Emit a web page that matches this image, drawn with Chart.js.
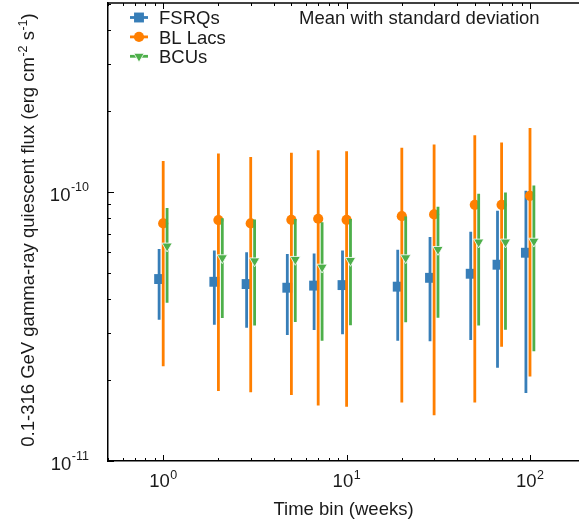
<!DOCTYPE html>
<html>
<head>
<meta charset="utf-8">
<script src="https://cdn.jsdelivr.net/npm/chart.js@4/dist/chart.umd.min.js"></script>
<style>
  html, body { margin: 0; padding: 0; background: #fff; overflow: hidden; }
  #wrap { position: relative; width: 579px; height: 523px; }
</style>
</head>
<body>
<div id="wrap"><canvas id="flux"></canvas></div>
<script>
// time bins in weeks
const timeBins = [1, 2, 3, 5, 7, 10, 20, 30, 50, 70, 100];

// mean quiescent flux and standard deviation (erg cm^-2 s^-1)
const fsrqMean = [4.75e-11, 4.64e-11, 4.55e-11, 4.41e-11, 4.49e-11, 4.51e-11, 4.45e-11, 4.80e-11, 4.97e-11, 5.37e-11, 5.95e-11];
const fsrqStd  = [1.40e-11, 1.43e-11, 1.42e-11, 1.47e-11, 1.42e-11, 1.55e-11, 1.65e-11, 2.01e-11, 2.15e-11, 3.15e-11, 4.16e-11];
const bllMean  = [7.65e-11, 7.87e-11, 7.65e-11, 7.89e-11, 7.96e-11, 7.89e-11, 8.14e-11, 8.26e-11, 8.97e-11, 8.97e-11, 9.69e-11];
const bllStd   = [5.40e-11, 6.05e-11, 5.85e-11, 6.13e-11, 6.35e-11, 6.30e-11, 6.49e-11, 6.78e-11, 7.32e-11, 6.31e-11, 7.63e-11];
const bcuMean  = [6.30e-11, 5.70e-11, 5.55e-11, 5.62e-11, 5.26e-11, 5.57e-11, 5.70e-11, 6.12e-11, 6.52e-11, 6.52e-11, 6.57e-11];
const bcuStd   = [2.42e-11, 2.30e-11, 2.36e-11, 2.33e-11, 2.46e-11, 2.37e-11, 2.42e-11, 2.71e-11, 3.33e-11, 3.44e-11, 4.01e-11];

const xTickValues = [1, 10, 100];
const xTickExps = ['0', '1', '2'];
const yTickValues = [1e-11, 1e-10];
const yTickExps = ['-11', '-10'];

const FONT = '"Liberation Sans", Arial, Helvetica, sans-serif';
const BIG = '18.5px ' + FONT;
const SUP = '12.5px ' + FONT;
const INK = '#1a1a1a';

const series = [
    { label: 'FSRQs',   mean: fsrqMean, std: fsrqStd, color: '#377eb8', style: 'rect',     radius: 7.0, rotation: 0,   shift: 0.95 },
    { label: 'BL Lacs', mean: bllMean,  std: bllStd,  color: '#ff7f00', style: 'circle',   radius: 5.1, rotation: 0,   shift: 1.0 },
    { label: 'BCUs',    mean: bcuMean,  std: bcuStd,  color: '#4daf4a', style: 'triangle', radius: 5.9, rotation: 180, shift: 1.05 },
];

const datasets = [];
series.forEach((s, k) => {
    const bars = [];
    timeBins.forEach((t, i) => {
        const x = t * s.shift;
        bars.push({ x: x, y: s.mean[i] - s.std[i] });
        bars.push({ x: x, y: s.mean[i] + s.std[i] });
        bars.push({ x: x, y: null });
    });
    datasets.push({
        type: 'line',
        label: s.label + ' std',
        data: bars,
        borderColor: s.color,
        borderWidth: 2.8,
        borderCapStyle: 'butt',
        pointRadius: 0,
        spanGaps: false,
        order: 6 - 2 * k,
    });
    datasets.push({
        type: 'scatter',
        label: s.label,
        data: timeBins.map((t, i) => ({ x: t * s.shift, y: s.mean[i] })),
        backgroundColor: s.color,
        borderColor: s.style === 'triangle' ? '#ffffff' : s.color,
        borderWidth: s.style === 'triangle' ? 0.8 : 0,
        pointStyle: s.style,
        pointRadius: s.radius,
        pointRotation: s.rotation,
        order: 5 - 2 * k,
    });
});

function powLabel(ctx, exp, x, baseY, expY, align) {
    ctx.font = BIG;
    const wb = ctx.measureText('10').width;
    ctx.font = SUP;
    const we = ctx.measureText(exp).width;
    let left = align === 'right' ? x - wb - we - 0.5 : x - (wb + we + 0.5) / 2;
    ctx.textAlign = 'left';
    ctx.textBaseline = 'alphabetic';
    ctx.font = BIG;
    ctx.fillText('10', left, baseY);
    ctx.font = SUP;
    ctx.fillText(exp, left + wb + 0.5, expY);
}

const decorations = {
    id: 'decorations',
    afterDraw(chart) {
        const { ctx, chartArea: a, scales } = chart;
        const xs = scales.x, ys = scales.y;
        ctx.save();
        ctx.strokeStyle = '#000';
        ctx.lineWidth = 1.5;
        ctx.beginPath();
        ctx.moveTo(a.left - 0.75, a.top);
        ctx.lineTo(a.right, a.top);
        ctx.stroke();

        // inward ticks
        ctx.lineWidth = 1;
        for (let d = -1; d <= 2; d++) {
            for (let m = 1; m <= 9; m++) {
                const v = m * Math.pow(10, d);
                if (v < xs.min || v > xs.max) continue;
                const px = Math.round(xs.getPixelForValue(v)) + 0.5;
                const len = m === 1 ? 6 : 3;
                ctx.beginPath();
                ctx.moveTo(px, a.bottom); ctx.lineTo(px, a.bottom - len);
                ctx.moveTo(px, a.top); ctx.lineTo(px, a.top + len);
                ctx.stroke();
            }
        }
        for (let d = -11; d <= -10; d++) {
            for (let m = 1; m <= 9; m++) {
                const v = m * Math.pow(10, d);
                if (v < ys.min || v > ys.max) continue;
                const py = Math.round(ys.getPixelForValue(v)) + 0.5;
                const len = m === 1 ? 6 : 3;
                ctx.beginPath();
                ctx.moveTo(a.left, py); ctx.lineTo(a.left + len, py);
                ctx.stroke();
            }
        }

        // tick labels
        ctx.fillStyle = INK;
        xTickValues.forEach((v, i) => {
            const px = xs.getPixelForValue(v);
            powLabel(ctx, xTickExps[i], px, a.bottom + 26, a.bottom + 18, 'center');
        });
        yTickValues.forEach((v, i) => {
            const py = ys.getPixelForValue(v);
            powLabel(ctx, yTickExps[i], a.left - 19, py + 8.5, py - 1.5, 'right');
        });

        // axis titles
        ctx.font = BIG;
        ctx.textAlign = 'center';
        ctx.textBaseline = 'alphabetic';
        ctx.fillText('Time bin (weeks)', (a.left + a.right) / 2, 514.5);

        ctx.save();
        ctx.translate(34, (a.top + a.bottom) / 2 - 2);
        ctx.rotate(-Math.PI / 2);
        const parts = [
            ['0.1-316 GeV gamma-ray quiescent flux (erg cm', false],
            ['-2', true], [' s', false], ['-1', true], [')', false],
        ];
        let total = 0;
        parts.forEach(p => {
            ctx.font = p[1] ? SUP : BIG;
            total += ctx.measureText(p[0]).width + (p[1] ? 0.5 : 0);
        });
        let cx = -total / 2;
        ctx.textAlign = 'left';
        parts.forEach(p => {
            ctx.font = p[1] ? SUP : BIG;
            ctx.fillText(p[0], cx + (p[1] ? 0.5 : 0), p[1] ? -7.5 : 0);
            cx += ctx.measureText(p[0]).width + (p[1] ? 0.5 : 0);
        });
        ctx.restore();

        // legend
        series.forEach((s, k) => {
            const y = 17.5 + k * 19.4;
            ctx.strokeStyle = s.color;
            ctx.lineWidth = 2.8;
            ctx.beginPath();
            ctx.moveTo(130, y); ctx.lineTo(148, y);
            ctx.stroke();
            ctx.fillStyle = s.color;
            ctx.strokeStyle = s.style === 'triangle' ? '#fff' : s.color;
            ctx.lineWidth = s.style === 'triangle' ? 0.8 : 0;
            Chart.helpers.drawPoint(ctx, {
                pointStyle: s.style, radius: s.radius, rotation: s.rotation,
                borderWidth: s.style === 'triangle' ? 0.8 : 0
            }, 139, y);
            ctx.fillStyle = INK;
            ctx.font = BIG;
            ctx.textAlign = 'left';
            ctx.fillText(s.label, 159, y + 6.6);
        });
        ctx.fillText('Mean with standard deviation', 299, 24);
        ctx.restore();
    }
};

new Chart(document.getElementById('flux'), {
    data: { datasets: datasets },
    options: {
        responsive: true,
        maintainAspectRatio: false,
        animation: false,
        layout: { autoPadding: false, padding: { left: 108, top: 3, right: 0, bottom: 62 } },
        scales: {
            x: {
                type: 'logarithmic',
                position: 'bottom',
                min: 0.5,
                max: 185,
                grid: { display: false, drawTicks: false },
                border: { display: true, color: '#000', width: 1.5 },
                ticks: { display: false },
            },
            y: {
                type: 'logarithmic',
                min: 1e-11,
                max: 5.05e-10,
                grid: { display: false, drawTicks: false },
                border: { display: true, color: '#000', width: 1.5 },
                ticks: { display: false },
            }
        },
        plugins: {
            legend: { display: false },
            tooltip: { enabled: false },
        }
    },
    plugins: [decorations]
});
</script>
</body>
</html>
